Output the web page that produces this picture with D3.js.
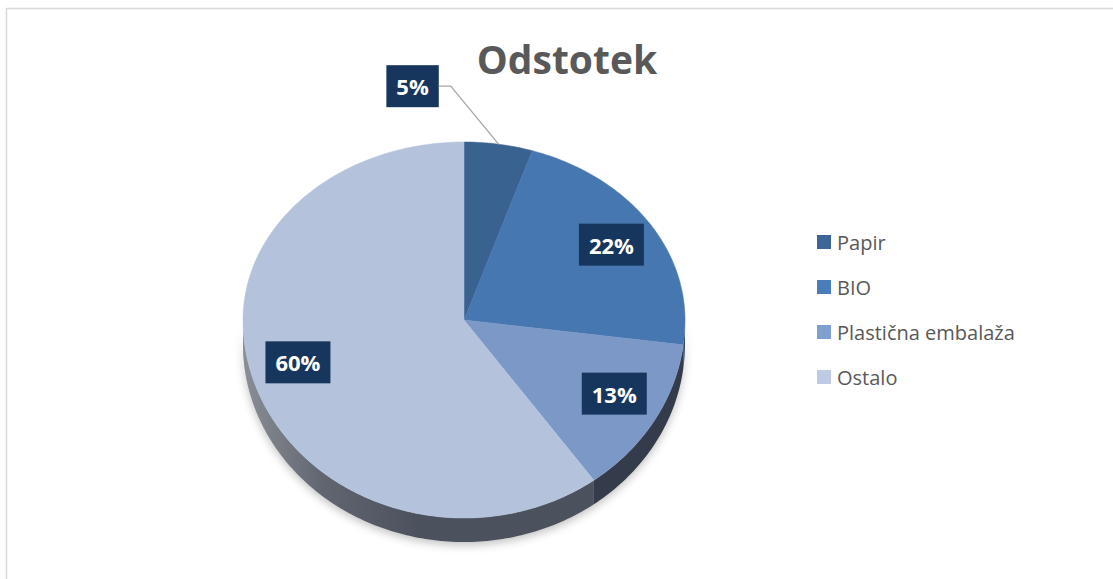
<!DOCTYPE html>
<html>
<head>
<meta charset="utf-8">
<script src="https://cdn.jsdelivr.net/npm/d3@7"></script>
<style>
  body { margin: 0; background: #fff; }
  svg { display: block; }
</style>
</head>
<body>
<div id="viz"></div>
<script>
// chart data
const categories = ["Papir", "BIO", "Plastična embalaža", "Ostalo"];
const values = [5, 22, 13, 60];
const labels = ["5%", "22%", "13%", "60%"];

const topColors = ["#3a6291", "#4777b0", "#7b98c6", "#b4c3db"];
const legendColors = ["#3d6597", "#4a7ebb", "#7f9fd0", "#bccae3"];
const wallColors = ["#26405f", "#2f4a6b", "#343c4c", "#4b515d"];

const width = 1113;
const height = 579;
const cx = 464;
const cy = 320;
const rx = 221;
const ryTop = 178;
const ryBot = 198;
const depth = 24;

// project an angle (0 = top, clockwise) and radius fraction onto the tilted disk
function proj(theta, f = 1, dy = 0) {
  const c = Math.cos(theta);
  const ry = c > 0 ? ryTop : ryBot;
  return [cx + rx * f * Math.sin(theta), cy - ry * f * c + dy];
}

function arcPoints(a0, a1, dy = 0) {
  const n = Math.max(2, Math.ceil(((a1 - a0) * 180) / Math.PI));
  return d3.range(n + 1).map((i) => proj(a0 + ((a1 - a0) * i) / n, 1, dy));
}

const svg = d3
  .select("#viz")
  .append("svg")
  .attr("width", width)
  .attr("height", height);

const defs = svg.append("defs");

defs
  .append("filter")
  .attr("id", "shadow")
  .attr("x", "-20%")
  .attr("y", "-20%")
  .attr("width", "140%")
  .attr("height", "140%")
  .append("feGaussianBlur")
  .attr("stdDeviation", 5);

const grad = defs
  .append("linearGradient")
  .attr("id", "wallShade")
  .attr("gradientUnits", "userSpaceOnUse")
  .attr("x1", cx - rx)
  .attr("x2", cx + rx)
  .attr("y1", 0)
  .attr("y2", 0);
grad.append("stop").attr("offset", "0%").attr("stop-color", "#fff").attr("stop-opacity", 0.35);
grad.append("stop").attr("offset", "18%").attr("stop-color", "#fff").attr("stop-opacity", 0.12);
grad.append("stop").attr("offset", "40%").attr("stop-color", "#fff").attr("stop-opacity", 0);
grad.append("stop").attr("offset", "100%").attr("stop-color", "#fff").attr("stop-opacity", 0);

// chart area border
svg
  .append("path")
  .attr("d", `M6.5,${height} L6.5,8.5 L${width},8.5`)
  .attr("fill", "none")
  .attr("stroke", "#d9d9d9")
  .attr("stroke-width", 1.5);

// title
svg
  .append("text")
  .attr("x", 567)
  .attr("y", 74)
  .attr("text-anchor", "middle")
  .style("font-family", "'Open Sans', sans-serif")
  .style("font-weight", 700)
  .style("font-size", "39px")
  .style("fill", "#595959")
  .text("Odstotek");

const pie = d3.pie().sort(null).startAngle(0).endAngle(2 * Math.PI);
const arcs = pie(values);

// soft shadow under the disk
const frontPts = arcPoints(Math.PI / 2, (3 * Math.PI) / 2, depth + 3);
svg
  .append("path")
  .attr("d", d3.line()(arcPoints(Math.PI / 2, (3 * Math.PI) / 2, 0).concat(frontPts.slice().reverse())) + "Z")
  .attr("fill", "#000")
  .attr("opacity", 0.25)
  .attr("filter", "url(#shadow)");

// side walls (front half only)
const walls = svg.append("g");
arcs.forEach((d, i) => {
  const a0 = Math.max(d.startAngle, Math.PI / 2);
  const a1 = Math.min(d.endAngle, (3 * Math.PI) / 2);
  if (a1 <= a0) return;
  const topEdge = arcPoints(a0, a1, 0);
  const botEdge = arcPoints(a0, a1, depth).reverse();
  const dStr = d3.line()(topEdge.concat(botEdge)) + "Z";
  walls.append("path").attr("d", dStr).attr("fill", wallColors[i]);
  walls.append("path").attr("d", dStr).attr("fill", "url(#wallShade)");
});

// top faces
svg
  .append("g")
  .selectAll("path")
  .data(arcs)
  .enter()
  .append("path")
  .attr("d", (d) => d3.line()([[cx, cy]].concat(arcPoints(d.startAngle, d.endAngle))) + "Z")
  .attr("fill", (d, i) => topColors[i])
  .attr("stroke", (d, i) => topColors[i])
  .attr("stroke-width", 0.5);

// data labels
const labelFrac = 0.79;
const boxH = 42;
const labelG = svg.append("g");
arcs.forEach((d, i) => {
  const mid = (d.startAngle + d.endAngle) / 2;
  let [lx, ly] = proj(mid, labelFrac);
  // pull lower-half labels up a little, like the 3D projection does
  if (Math.cos(mid) < 0) ly -= 6;
  const outside = values[i] < 10;
  const edge = proj(mid, 1.0);
  if (outside) {
    // small slice: label pulled outside with a leader line
    lx = edge[0] - 86;
    ly = edge[1] - 58;
  }
  const t = labelG
    .append("text")
    .attr("x", lx)
    .attr("y", ly)
    .attr("text-anchor", "middle")
    .attr("dominant-baseline", "central")
    .style("font-family", "'Open Sans', sans-serif")
    .style("font-weight", 700)
    .style("font-size", "22px")
    .style("fill", "#fff")
    .text(labels[i]);
  const w = t.node().getComputedTextLength() + 20;
  labelG
    .insert("rect", "text")
    .attr("x", lx - w / 2)
    .attr("y", ly - boxH / 2)
    .attr("width", w)
    .attr("height", boxH)
    .attr("fill", "#17365d");
  if (outside) {
    labelG
      .append("polyline")
      .attr("points", [[lx + w / 2, ly], [lx + w / 2 + 12, ly], edge].join(" "))
      .attr("fill", "none")
      .attr("stroke", "#a6a6a6")
      .attr("stroke-width", 1.3);
  }
});

// legend
const legend = svg
  .append("g")
  .selectAll("g")
  .data(categories)
  .enter()
  .append("g")
  .attr("transform", (d, i) => `translate(817,${242 + 45 * i})`);

legend
  .append("rect")
  .attr("x", 0)
  .attr("y", -7)
  .attr("width", 14)
  .attr("height", 14)
  .attr("fill", (d, i) => legendColors[i]);

legend
  .append("text")
  .attr("x", 20)
  .attr("y", 0)
  .attr("dominant-baseline", "central")
  .style("font-family", "'Open Sans', sans-serif")
  .style("font-size", "20px")
  .style("fill", "#595959")
  .text((d) => d);
</script>
</body>
</html>
